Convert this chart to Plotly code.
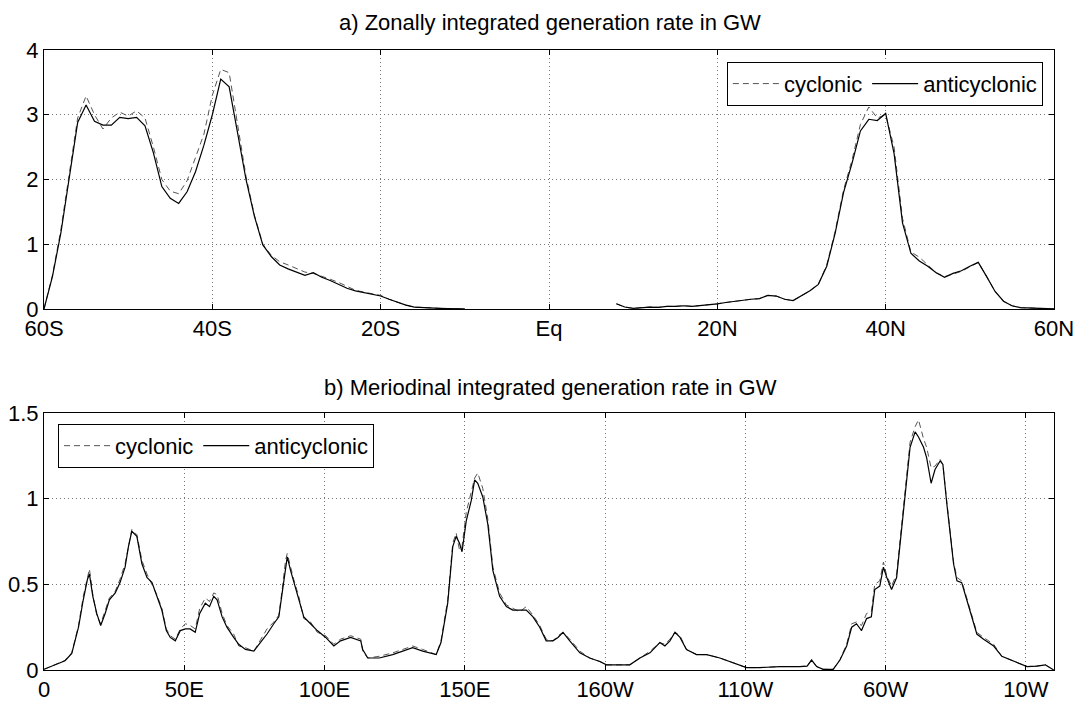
import plotly.graph_objects as go

# ---------------- data: panel a (zonal) ----------------
lat = list(range(-60, 61))
cyc_a = ([0.0, 0.52, 1.22, 2.05, 2.95, 3.29, 3.0, 2.78, 2.95, 3.04, 2.98, 3.06, 2.95, 2.5, 2.0,
          1.82, 1.78, 1.98, 2.35, 2.7, 3.3, 3.7, 3.65, 2.85, 2.05, 1.45, 1.0, 0.83, 0.73, 0.68,
          0.63, 0.57, 0.55, 0.51, 0.46, 0.41, 0.35, 0.29, 0.26, 0.24, 0.21, 0.15, 0.10, 0.06,
          0.03, 0.02, 0.015, 0.01, 0.005, 0.0, 0.0]
         + [None] * 17
         + [0.08, 0.03, 0.01, 0.02, 0.03, 0.025, 0.04, 0.04, 0.05, 0.04, 0.05, 0.06, 0.08,
            0.10, 0.12, 0.14, 0.15, 0.16, 0.21, 0.20, 0.15, 0.13, 0.20, 0.28, 0.38, 0.68,
            1.2, 1.84, 2.3, 2.85, 3.12, 2.95, 3.0, 2.5, 1.40, 0.88, 0.80, 0.68, 0.56, 0.50,
            0.54, 0.58, 0.65, 0.72, 0.50, 0.27, 0.12, 0.05, 0.02, 0.015, 0.015, 0.015, 0.0])
anti_a = ([0.0, 0.50, 1.17, 2.0, 2.88, 3.15, 2.90, 2.84, 2.84, 2.96, 2.94, 2.96, 2.83, 2.41,
           1.89, 1.71, 1.63, 1.81, 2.12, 2.53, 3.0, 3.55, 3.43, 2.72, 2.0, 1.43, 0.99, 0.81,
           0.68, 0.62, 0.57, 0.52, 0.56, 0.49, 0.44, 0.38, 0.32, 0.28, 0.25, 0.23, 0.20, 0.15,
           0.10, 0.06, 0.03, 0.02, 0.015, 0.01, 0.005, 0.0, 0.0]
          + [None] * 17
          + [0.08, 0.03, 0.01, 0.02, 0.03, 0.025, 0.04, 0.04, 0.05, 0.04, 0.05, 0.06, 0.08,
             0.10, 0.12, 0.14, 0.15, 0.16, 0.21, 0.20, 0.15, 0.13, 0.20, 0.28, 0.38, 0.66,
             1.17, 1.80, 2.25, 2.75, 2.93, 2.91, 3.02, 2.40, 1.33, 0.86, 0.74, 0.66, 0.56,
             0.49, 0.55, 0.59, 0.66, 0.72, 0.50, 0.27, 0.12, 0.05, 0.02, 0.015, 0.015, 0.015,
             0.0])
lat_ticks = [-60, -40, -20, 0, 20, 40, 60]
lat_labels = ["60S", "40S", "20S", "Eq", "20N", "40N", "60N"]

# ---------------- data: panel b (meridional) ----------------
lon = [0, 4, 7.5, 9.9, 12.3, 14.0, 15.5, 16.2, 17.4, 18.8, 20.2, 21.8, 23.3, 25.4, 27.1,
       28.9, 30.1, 31.3, 33.1, 34.9, 36.7, 38.5, 40.2, 42.0, 43.6, 45.0, 46.8, 48.6, 50.4,
       52.1, 53.9, 55.5, 57.5, 59.0, 60.5, 61.7, 63.5, 65.2, 67.6, 69.4, 71.8, 74.8, 77.1,
       79.5, 81.9, 83.7, 84.9, 86.1, 86.7, 87.9, 89.0, 90.8, 92.6, 95.0, 97.4, 100.4, 103.3,
       105.7, 109.3, 112.9, 113.6, 115.4, 119.5, 124.3, 127.9, 131.4, 135.0, 139.8, 141.5,
       143.9, 145.7, 146.9, 148.1, 149.0, 150.5, 152.3, 153.5, 154.6, 156.4, 158.2, 160.0,
       162.4, 164.8, 167.1, 169.5, 171.9, 174.3, 176.7, 179.0, 181.4, 183.2, 185.0, 187.4,
       191.0, 194.5, 198.1, 200.5, 205.2, 208.8, 212.4, 216.0, 219.5, 221.3, 223.1, 224.9,
       226.7, 229.0, 232.6, 236.2, 240.9, 245.6, 250.4, 255.1, 262.3, 269.4, 272.0, 273.6,
       275.4, 277.7, 281.3, 283.7, 286.1, 287.9, 289.6, 291.4, 293.2, 294.9, 296.1, 297.9,
       299.2, 300.4, 302.1, 303.9, 305.1, 306.9, 308.7, 310.5, 311.7, 313.5, 314.6, 316.2,
       317.6, 319.4, 320.4, 321.8, 323.0, 324.2, 325.4, 327.1, 328.9, 330.7, 332.5, 334.9,
       338.5, 341.4, 345.6, 350.4, 353.9, 356.9, 359.9]
anti_b = [0.004, 0.03, 0.054, 0.097, 0.25, 0.41, 0.53, 0.56, 0.43, 0.33, 0.26, 0.33, 0.41,
          0.45, 0.51, 0.60, 0.72, 0.81, 0.78, 0.62, 0.54, 0.51, 0.43, 0.35, 0.23, 0.19, 0.17,
          0.23, 0.24, 0.24, 0.22, 0.33, 0.39, 0.37, 0.43, 0.41, 0.31, 0.25, 0.19, 0.15, 0.12,
          0.11, 0.16, 0.21, 0.27, 0.31, 0.45, 0.60, 0.66, 0.58, 0.52, 0.41, 0.31, 0.27, 0.23,
          0.19, 0.14, 0.17, 0.19, 0.17, 0.12, 0.07, 0.07, 0.09, 0.11, 0.13, 0.11, 0.09, 0.16,
          0.39, 0.72, 0.78, 0.74, 0.69, 0.87, 0.99, 1.11, 1.09, 1.01, 0.85, 0.58, 0.43, 0.37,
          0.35, 0.35, 0.35, 0.31, 0.25, 0.17, 0.17, 0.19, 0.22, 0.17, 0.10, 0.07, 0.05, 0.03,
          0.03, 0.03, 0.07, 0.10, 0.16, 0.14, 0.17, 0.22, 0.19, 0.12, 0.09, 0.09, 0.07, 0.04,
          0.014, 0.014, 0.02, 0.02, 0.023, 0.058, 0.02, 0.004, 0.004, 0.058, 0.14, 0.25, 0.27,
          0.23, 0.30, 0.31, 0.47, 0.49, 0.60, 0.54, 0.47, 0.54, 0.74, 1.01, 1.30, 1.39, 1.36,
          1.30, 1.24, 1.09, 1.17, 1.22, 1.20, 0.97, 0.78, 0.62, 0.52, 0.51, 0.41, 0.31, 0.21,
          0.18, 0.14, 0.08, 0.05, 0.02, 0.023, 0.03, 0.0]
cyc_b = [0.004, 0.03, 0.056, 0.10, 0.26, 0.43, 0.55, 0.59, 0.44, 0.32, 0.27, 0.35, 0.42,
         0.46, 0.53, 0.62, 0.73, 0.82, 0.79, 0.64, 0.56, 0.50, 0.44, 0.36, 0.24, 0.20, 0.18,
         0.24, 0.27, 0.26, 0.24, 0.36, 0.42, 0.40, 0.45, 0.44, 0.33, 0.26, 0.21, 0.14, 0.13,
         0.11, 0.17, 0.24, 0.28, 0.32, 0.47, 0.64, 0.68, 0.60, 0.53, 0.43, 0.30, 0.28, 0.22,
         0.20, 0.15, 0.18, 0.20, 0.18, 0.11, 0.07, 0.08, 0.10, 0.12, 0.14, 0.12, 0.09, 0.17,
         0.41, 0.74, 0.80, 0.70, 0.72, 0.92, 1.03, 1.12, 1.15, 1.06, 0.88, 0.60, 0.45, 0.38,
         0.36, 0.34, 0.37, 0.32, 0.26, 0.18, 0.17, 0.20, 0.22, 0.18, 0.11, 0.07, 0.05, 0.03,
         0.03, 0.03, 0.07, 0.11, 0.16, 0.15, 0.18, 0.22, 0.20, 0.12, 0.09, 0.09, 0.07, 0.04,
         0.014, 0.014, 0.02, 0.02, 0.023, 0.06, 0.02, 0.004, 0.004, 0.06, 0.15, 0.27, 0.28,
         0.26, 0.33, 0.34, 0.50, 0.52, 0.63, 0.55, 0.49, 0.56, 0.76, 1.04, 1.33, 1.42, 1.46,
         1.35, 1.30, 1.18, 1.19, 1.23, 1.20, 0.98, 0.80, 0.63, 0.54, 0.52, 0.42, 0.32, 0.22,
         0.19, 0.15, 0.08, 0.05, 0.02, 0.023, 0.03, 0.0]
lon_ticks = [0, 50, 100, 150, 200, 250, 300, 350]
lon_labels = ["0", "50E", "100E", "150E", "160W", "110W", "60W", "10W"]

# ---------------- figure ----------------
FONT = "Liberation Sans, Arial, Helvetica, sans-serif"
FS = 22
DASH = "6px,4px"

fig = go.Figure()
fig.add_trace(go.Scatter(x=lat, y=cyc_a, name="cyclonic", mode="lines",
                         line=dict(color="#555555", width=1, dash=DASH),
                         xaxis="x", yaxis="y", legend="legend", connectgaps=False))
fig.add_trace(go.Scatter(x=lat, y=anti_a, name="anticyclonic", mode="lines",
                         line=dict(color="black", width=1.2),
                         xaxis="x", yaxis="y", legend="legend", connectgaps=False))
fig.add_trace(go.Scatter(x=lon, y=cyc_b, name="cyclonic", mode="lines",
                         line=dict(color="#555555", width=1, dash=DASH),
                         xaxis="x2", yaxis="y2", legend="legend2"))
fig.add_trace(go.Scatter(x=lon, y=anti_b, name="anticyclonic", mode="lines",
                         line=dict(color="black", width=1.2),
                         xaxis="x2", yaxis="y2", legend="legend2"))

axis_common = dict(showline=True, linecolor="black", linewidth=1, mirror="ticks",
                   ticks="inside", ticklen=5, tickcolor="black", automargin=False,
                   showgrid=True, gridcolor="#777777", gridwidth=1, griddash="1px,3px",
                   zeroline=False, tickfont=dict(family=FONT, size=FS, color="black"))

legend_common = dict(orientation="h", bgcolor="white", bordercolor="black", borderwidth=1,
                     itemwidth=46, font=dict(family=FONT, size=FS, color="black"))

fig.update_layout(
    width=1082, height=702,
    margin=dict(l=44, r=28, t=50, b=32),
    paper_bgcolor="white", plot_bgcolor="white",
    font=dict(family=FONT, size=FS, color="black"),
    xaxis=dict(domain=[0, 1], range=[-60, 60], tickvals=lat_ticks, ticktext=lat_labels,
               anchor="y", **axis_common),
    yaxis=dict(domain=[0.5823, 1], range=[0, 4], tickvals=[0, 1, 2, 3, 4],
               anchor="x", **axis_common),
    xaxis2=dict(domain=[0, 1], range=[0, 360], tickvals=lon_ticks, ticktext=lon_labels,
                anchor="y2", **axis_common),
    yaxis2=dict(domain=[0, 0.4145], range=[0, 1.5], tickvals=[0, 0.5, 1, 1.5],
                ticktext=["0", "0.5", "1", "1.5"], anchor="x2", **axis_common),
    legend=dict(x=0.989, y=0.981, xanchor="right", yanchor="top", **legend_common),
    legend2=dict(x=0.0139, y=0.397, xanchor="left", yanchor="top", **legend_common),
    annotations=[
        dict(text="a) Zonally integrated generation rate in GW", x=0.501, y=1.045,
             xref="paper", yref="paper", xanchor="center", yanchor="middle",
             showarrow=False, font=dict(family=FONT, size=FS, color="black")),
        dict(text="b) Meriodinal integrated generation rate in GW", x=0.501, y=0.455,
             xref="paper", yref="paper", xanchor="center", yanchor="middle",
             showarrow=False, font=dict(family=FONT, size=FS, color="black")),
    ],
    showlegend=True,
)

fig.write_html("out.html", config={"displayModeBar": False},
               post_script="document.body.style.margin='0px';document.body.style.padding='0px';")
